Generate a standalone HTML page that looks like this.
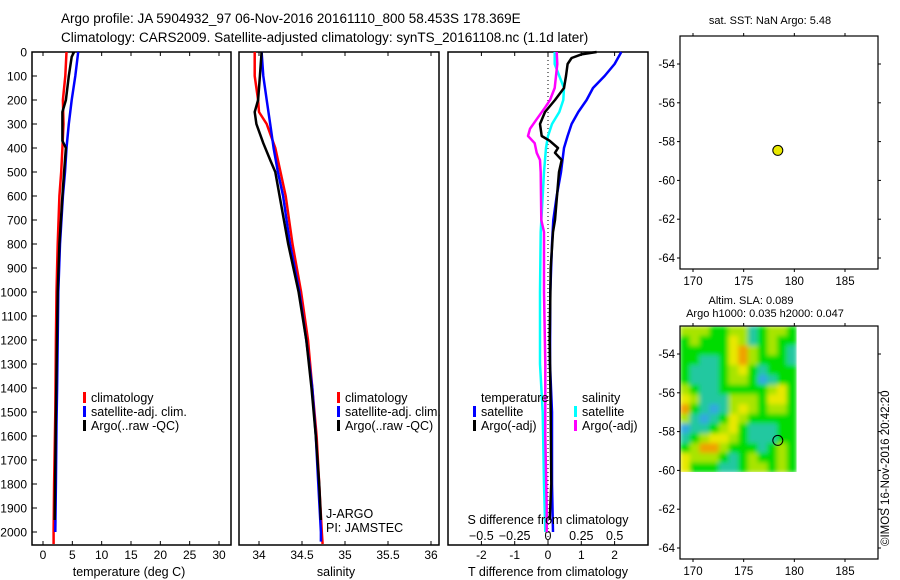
<!DOCTYPE html>
<html><head><meta charset="utf-8">
<style>
html,body{margin:0;padding:0;background:#fff;}
svg{display:block;font-family:"Liberation Sans",sans-serif;}
text{fill:#000;}
</style></head>
<body>
<svg id="fig" width="900" height="580" viewBox="0 0 900 580" xmlns="http://www.w3.org/2000/svg">
<defs>
<filter id="blur" x="-0.1" y="-0.1" width="1.2" height="1.2"><feGaussianBlur stdDeviation="2.5" edgeMode="duplicate"/></filter>
<clipPath id="slaclip"><rect x="680" y="326" width="116.6" height="146"/></clipPath>
</defs>
<text x="61" y="23" font-size="13.5">Argo profile: JA 5904932_97 06-Nov-2016 20161110_800 58.453S 178.369E</text>
<text x="61" y="42" font-size="13.5">Climatology: CARS2009. Satellite-adjusted climatology: synTS_20161108.nc (1.1d later)</text>
<g id="layer"></g>
</svg>
<script>
// ---------- data ----------
const depthTicks=[0,100,200,300,400,500,600,700,800,900,1000,1100,1200,1300,1400,1500,1600,1700,1800,1900,2000];
const tempTicks=[0,5,10,15,20,25,30];
const salTicks=[34,34.5,35,35.5,36];
const tdiffTicks=[-2,-1,0,1,2];
const sdiffTicks=[-0.5,-0.25,0,0.25,0.5];
const lonTicks=[170,175,180,185];
const latTicks=[-54,-56,-58,-60,-62,-64];

const tClimDepth=[0,100,200,300,400,500,600,800,1000,1200,1500,1800,2000,2050];
const tClimVal=[4.0,3.8,3.4,3.5,3.3,3.1,2.8,2.5,2.3,2.2,2.1,1.9,1.8,1.8];
const tSatDepth=[0,100,200,300,400,500,600,800,1000,1200,1400,1550,1800,2000];
const tSatVal=[6.0,5.5,4.9,4.4,4.0,3.75,3.4,2.9,2.6,2.5,2.4,2.3,2.2,2.1];
const tArgoDepth=[0,20,100,200,250,300,370,400,500,600,800,1000,1500,1950];
const tArgoVal=[5.3,4.9,4.4,3.9,3.3,3.3,3.3,3.9,3.6,3.3,2.8,2.5,2.2,2.0];

const sClimDepth=[0,100,200,250,300,400,500,600,800,1000,1200,1400,1600,1800,2000,2050];
const sClimVal=[33.95,33.95,33.99,34.0,34.09,34.19,34.25,34.31,34.39,34.49,34.57,34.62,34.67,34.7,34.73,34.74];
const sSatDepth=[0,100,200,300,400,500,600,800,1000,1200,1400,1600,1800,2000,2040];
const sSatVal=[34.03,34.05,34.09,34.13,34.17,34.22,34.28,34.36,34.47,34.55,34.62,34.66,34.69,34.72,34.72];
const sArgoDepth=[0,100,200,250,300,380,450,500,600,800,1000,1200,1400,1600,1800,1950];
const sArgoVal=[34.03,34.01,33.99,33.95,33.97,34.05,34.13,34.19,34.24,34.34,34.46,34.55,34.61,34.66,34.7,34.72];

const dTSatDepth=[0,50,100,150,200,250,300,350,400,500,600,700,800,1000,1300,1500,1800,2000];
const dTSatVal=[2.2,2.0,1.7,1.35,1.16,0.91,0.71,0.59,0.48,0.39,0.26,0.16,0.12,0.07,0.06,0.12,0.12,0.15];
const dTArgoDepth=[0,10,25,50,100,150,200,250,300,350,370,400,420,450,500,550,600,700,750,900,1200,1500,1800,1950];
const dTArgoVal=[1.46,1.0,0.71,0.59,0.54,0.48,0.21,-0.09,-0.24,-0.19,0.05,0.3,0.21,0.41,0.33,0.3,0.27,0.21,0.15,0.08,0.05,0.08,0.1,0.05];
const dSArgoDepth=[0,50,100,150,200,230,280,320,350,380,420,450,500,700,750,1000,1300,1600,1900,2000];
const dSArgoVal=[0.065,0.07,0.06,0.05,0.015,-0.02,-0.085,-0.135,-0.15,-0.1,-0.085,-0.06,-0.055,-0.05,-0.03,-0.03,-0.02,-0.02,-0.01,-0.01];
const dSSatDepth=[0,50,100,150,200,250,300,350,400,500,600,750,1000,1300,1500,1800,2000];
const dSSatVal=[0.05,0.05,0.085,0.12,0.115,0.085,0.03,0.0,-0.015,-0.03,-0.04,-0.055,-0.06,-0.06,-0.04,-0.03,-0.02];

const argoLon=178.369, argoLat=-58.453;
// SLA grid rows (north to south), codes -2..3
const slaRows=[
"1 1 1 0 0 1 1 -1 0 1 1 0",
"0 1 0 0 0 2 1 -1 0 1 0 0",
"0 0 0 0 0 2 3 1 0 1 0 -1",
"0 0 -1 -1 0 2 3 1 0 0 0 -1",
"0 -1 -1 -1 0 1 2 0 -1 0 0 0",
"0 -1 -1 -1 0 1 1 0 -2 -1 0 0",
"1 0 -1 -1 0 0 0 0 0 1 2 0",
"2 1 -1 -1 -1 1 1 1 0 2 2 0",
"3 0 -1 -2 -1 1 2 1 0 1 1 0",
"1 -1 -2 -1 0 2 1 0 0 0 0 0",
"-2 -1 -1 0 1 2 0 -1 -1 -1 0 0",
"-1 0 1 2 2 1 0 -1 -1 -1 0 0",
"0 1 3 3 1 0 0 0 -1 0 1 0",
"2 1 1 1 0 -1 0 1 0 0 1 0",
"2 0 0 0 -1 -1 0 1 1 0 1 0"];

// ---------- helpers ----------
const NS="http://www.w3.org/2000/svg";
const layer=document.getElementById('layer');
function mk(tag,attrs,parent){const e=document.createElementNS(NS,tag);for(const k in attrs)e.setAttribute(k,attrs[k]);(parent||layer).appendChild(e);return e;}
function lin(d0,d1,r0,r1){return v=>r0+(v-d0)*(r1-r0)/(d1-d0);}
const TOP=52,BOT=545;
const yD=lin(0,2000,52,532);

function frame(x0,x1,name){
  const r=mk('rect',{x:x0,y:TOP,width:x1-x0,height:BOT-TOP,fill:'none',stroke:'#000','stroke-width':1.5});
  
  
}
function xTicks(xs,fx,labels,ly,name,fs){
  xs.forEach((v,i)=>{
    const x=fx(v);
    mk('line',{x1:x,x2:x,y1:TOP,y2:TOP+4,stroke:'#000'});
    mk('line',{x1:x,x2:x,y1:BOT,y2:BOT-4,stroke:'#000'});
    const t=mk('text',{x:x,y:ly,'font-size':fs||12,'text-anchor':'middle'});
    t.textContent=labels[i];
    
    
  });
}
function line(fx,depths,vals,color,name){
  const pts=depths.map((d,i)=>fx(vals[i]).toFixed(1)+','+yD(d).toFixed(1));
  const p=mk('polyline',{points:pts.join(' '),fill:'none',stroke:color,'stroke-width':2.5,'stroke-linejoin':'round'});
  
  
}
function legend(x,y,color,label,name){
  if(color) mk('rect',{x:x,y:y-10,width:3,height:11,fill:color});
  const t=mk('text',{x:x+8,y:y,'font-size':12.5});
  t.textContent=label;
  
  
}

// ---------- panel 1: temperature ----------
const xT=lin(0,30,43,219);
frame(32,231,'temperature-panel');
depthTicks.forEach(d=>{
  mk('line',{x1:32,x2:37,y1:yD(d),y2:yD(d),stroke:'#000'});
  const t=mk('text',{x:27,y:yD(d)+4.5,'font-size':12,'text-anchor':'end'});
  t.textContent=d;
  
  
});
xTicks(tempTicks,xT,tempTicks,559,'temperature');
line(xT,tClimDepth,tClimVal,'#ff0000','temp-climatology-line');
line(xT,tSatDepth,tSatVal,'#0000ff','temp-satellite-line');
line(xT,tArgoDepth,tArgoVal,'#000000','temp-argo-line');
legend(83,402,'#ff0000','climatology','legend-climatology');
legend(83,416,'#0000ff','satellite-adj. clim.','legend-satellite-adj');
legend(83,430,'#000000','Argo(..raw -QC)','legend-argo');
{const t=mk('text',{x:129,y:576,'font-size':12.5,'text-anchor':'middle'});t.textContent='temperature (deg C)';

}

// ---------- panel 2: salinity ----------
const xS=lin(34,36,259,431);
frame(239,439,'salinity-panel');
xTicks(salTicks,xS,salTicks,559,'salinity');
line(xS,sClimDepth,sClimVal,'#ff0000','sal-climatology-line');
line(xS,sSatDepth,sSatVal,'#0000ff','sal-satellite-line');
line(xS,sArgoDepth,sArgoVal,'#000000','sal-argo-line');
legend(337,402,'#ff0000','climatology','legend-climatology-2');
legend(337,416,'#0000ff','satellite-adj. clim.','legend-satellite-adj-2');
legend(337,430,'#000000','Argo(..raw -QC)','legend-argo-2');
legend(318,518,null,'J-ARGO','j-argo-label');
legend(318,532,null,'PI: JAMSTEC','pi-label');
{const t=mk('text',{x:336,y:576,'font-size':12.5,'text-anchor':'middle'});t.textContent='salinity';

}

// ---------- panel 3: differences ----------
const xdT=lin(0,1,548,581.3);
const xdS=lin(0,1,548,681.3);
frame(448,648,'difference-panel');
mk('line',{x1:548,x2:548,y1:TOP,y2:BOT,stroke:'#000','stroke-dasharray':'1,3'});
xTicks(tdiffTicks,xdT,tdiffTicks,559,'tdiff');
sdiffTicks.forEach(v=>{
  const t=mk('text',{x:xdS(v),y:540,'font-size':12.5,'text-anchor':'middle'});
  t.textContent=(v<0?'\u2212':'')+Math.abs(v);
  
  
});
line(xdS,dSSatDepth,dSSatVal,'#00ffff','sdiff-satellite-line');
line(xdS,dSArgoDepth,dSArgoVal,'#ff00ff','sdiff-argo-line');
line(xdT,dTSatDepth,dTSatVal,'#0000ff','tdiff-satellite-line');
line(xdT,dTArgoDepth,dTArgoVal,'#000000','tdiff-argo-line');
legend(473,402,null,'temperature','legend-temperature-header');
legend(473,416,'#0000ff','satellite','legend-tdiff-satellite');
legend(473,430,'#000000','Argo(-adj)','legend-tdiff-argo');
legend(574,402,null,'salinity','legend-salinity-header');
legend(574,416,'#00ffff','satellite','legend-sdiff-satellite');
legend(574,430,'#ff00ff','Argo(-adj)','legend-sdiff-argo');
{const t=mk('text',{x:548,y:524,'font-size':12.5,'text-anchor':'middle'});t.textContent='S difference from climatology';

}
{const t=mk('text',{x:548,y:576,'font-size':12.5,'text-anchor':'middle'});t.textContent='T difference from climatology';

}

// ---------- maps ----------
const xLon=lin(170,185,693,845);
function mapPanel(top,name,yLat,title1,title2){
  const bot=top+233;
  if(name==='sla-map'){
    const nr=slaRows.length, colors={'-2':'#30a8e0','-1':'#20c8a0','0':'#00dc00','1':'#a8e400','2':'#e8e800','3':'#f0a000'};
    const x0=680,x1=xLon(180.2),y0=top,y1=yLat(-60.1);
    const cw=(x1-x0)/12,ch=(y1-y0)/nr;
    const outer=mk('g',{'clip-path':'url(#slaclip)'});
    const g=mk('g',{filter:'url(#blur)'},outer);
    slaRows.forEach((row,r)=>row.split(' ').forEach((c,ci)=>{
      const cell=mk('rect',{x:x0+ci*cw,y:y0+r*ch,width:cw+0.5,height:ch+0.5,fill:colors[c]},g);
      
      
    }));
  }
  const r=mk('rect',{x:680,y:top,width:198,height:233,fill:'none',stroke:'#000','stroke-width':1.2});
  
  
  lonTicks.forEach(v=>{
    const x=xLon(v);
    mk('line',{x1:x,x2:x,y1:top,y2:top-3,stroke:'#000'});
    mk('line',{x1:x,x2:x,y1:bot,y2:bot+3,stroke:'#000'});
    const t=mk('text',{x:x,y:bot+16,'font-size':11.5,'text-anchor':'middle'});
    t.textContent=v;
    
    
  });
  latTicks.forEach(v=>{
    const y=yLat(v);
    mk('line',{x1:680,x2:677,y1:y,y2:y,stroke:'#000'});
    mk('line',{x1:878,x2:881,y1:y,y2:y,stroke:'#000'});
    const t=mk('text',{x:675,y:y+4,'font-size':11.5,'text-anchor':'end'});
    t.textContent=v;
    
    
  });
  const t1=mk('text',{x:title2?751:770,y:title2?top-22:top-12,'font-size':11,'text-anchor':'middle'});
  t1.textContent=title1;
  
  
  if(title2){const t2=mk('text',{x:765,y:top-9,'font-size':11,'text-anchor':'middle'});t2.textContent=title2;
    
    }
}
const yLat1=lin(-54,-64,64,258);
mapPanel(36,'sst-map',yLat1,'sat. SST: NaN Argo: 5.48');
{const c=mk('circle',{cx:xLon(argoLon),cy:yLat1(argoLat),r:5,fill:'#e8e800',stroke:'#000'});

}
const yLat2=lin(-54,-64,354,548);
mapPanel(326,'sla-map',yLat2,'Altim. SLA: 0.089','Argo h1000: 0.035 h2000: 0.047');
{const c=mk('circle',{cx:xLon(argoLon),cy:yLat2(argoLat),r:5,fill:'none',stroke:'#000'});

}
{const t=mk('text',{x:0,y:0,'font-size':11.5,transform:'translate(889,546) rotate(-90)'});t.textContent='\u00A9IMOS 16-Nov-2016 20:42:20';

}
</script>
</body></html>
